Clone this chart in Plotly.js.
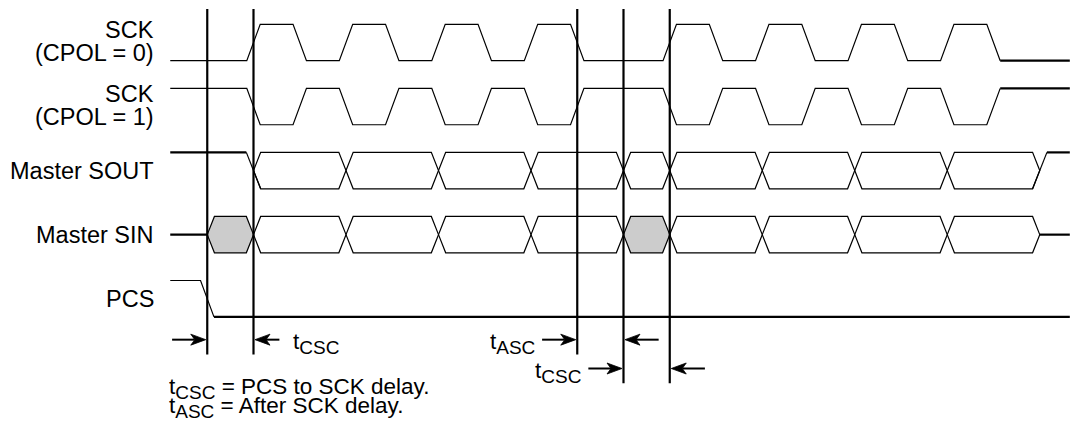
<!DOCTYPE html>
<html><head><meta charset="utf-8">
<script src="https://cdn.plot.ly/plotly-3.0.1.min.js"></script>
<style>html,body{margin:0;padding:0;background:#fff}#chart{width:1070px;height:423px}</style>
</head><body><div id="chart"></div>
<script>
// ---------------- data (time in half SCK periods, t = 0 at the first SCK edge) ----------------
const signalNames = ['SCK', 'SCK', 'Master SOUT', 'Master SIN', 'PCS'];
const signalNotes = ['(CPOL = 0)', '(CPOL = 1)', '', '', ''];
const traceStart = -1.8;
const traceEnd = 17.65;
const sckEdges = [0, 1, 2, 3, 4, 5, 6, 7, 9, 10, 11, 12, 13, 14, 15, 16];
const sckIdleLevel = [0, 1];                       // CPOL = 0, CPOL = 1
const soutChanges = [0, 2, 4, 6, 8, 9, 11, 13, 15, 17];
const sinChanges = [-1, 0, 2, 4, 6, 8, 9, 11, 13, 15, 17];
const sinUndefined = [-1, 8];                      // windows starting here are shaded
const pcsFall = -1;
const markerTimes = [-1, 0, 7, 8, 9];
const intervalNames = ['CSC', 'ASC', 'CSC'];
const intervalStart = [-1, 7, 8];
const intervalEnd = [0, 8, 9];
const footnoteNames = ['CSC', 'ASC'];
const footnoteTexts = [' = PCS to SCK delay.', ' = After SCK delay.'];

// ---------------- layout / style constants ----------------
const W = 1070, H = 423;
const X_RANGE = [-5.481, 17.654], Y_RANGE = [5.941, -0.6635];
const PX_X = W / (X_RANGE[1] - X_RANGE[0]);        // pixels per time unit
const PX_Y = H / (Y_RANGE[0] - Y_RANGE[1]);        // pixels per row unit
const FONT = 'Liberation Sans, Arial, Helvetica, sans-serif';
const INK = '#000000';
const THIN = 1.2, THICK = 2.2, MARK = 2.2;
const A = 0.284;            // half swing of a signal (row units)
const hClk = 0.145, hData = 0.155;
const markerTop = -0.523;
const arrowRowY = [4.64, 4.64, 5.09];
const arrowLenBefore = [0.76, 0.76, 0.76];
const arrowLenAfter = [0.56, 0.76, 0.76];
const labelSide = ['right', 'left', 'left'];
const HEAD_L = 15, HEAD_W = 5.5, HEAD_N = 4, TIP_GAP = 1.5;   // pixels
const LABEL_SIZE = 23.5, NOTE_SIZE = 22.5, SUB_SIZE = 19;

const traces = [];
function addLine(xs, ys, w, extra) {
  traces.push(Object.assign({type: 'scatter', mode: 'lines', x: xs, y: ys,
    line: {color: INK, width: w}, hoverinfo: 'skip', showlegend: false}, extra || {}));
}
const lv = (row, high) => row + (high ? -A : A);

// clocks
sckIdleLevel.forEach((idle, row) => {
  const xs = [traceStart], ys = [lv(row, idle)];
  let l = idle;
  sckEdges.forEach(e => {
    xs.push(e - hClk); ys.push(lv(row, l));
    l = 1 - l;
    xs.push(e + hClk); ys.push(lv(row, l));
  });
  addLine(xs, ys, THIN);
  addLine([xs[xs.length - 1], traceEnd], [ys[ys.length - 1], ys[ys.length - 1]], THICK);
});

function hexagon(row, a, b, xs, ys) {
  const pts = [[a, row], [a + hData, row - A], [b - hData, row - A], [b, row],
               [b - hData, row + A], [a + hData, row + A], [a, row]];
  pts.forEach(p => { xs.push(p[0]); ys.push(p[1]); });
  xs.push(null); ys.push(null);
}

// Master SOUT
(function () {
  const row = 2, c = soutChanges;
  addLine([traceStart, c[0] - hData], [row - A, row - A], THICK);
  const xs = [c[0] - hData, c[0] + hData, null], ys = [row - A, row + A, null];
  for (let i = 0; i < c.length - 1; i++) hexagon(row, c[i], c[i + 1], xs, ys);
  const e = c[c.length - 1];
  xs.push(e - hData, e + hData); ys.push(row + A, row - A);
  addLine(xs, ys, THIN);
  addLine([e + hData, traceEnd], [row - A, row - A], THICK);
})();

// Master SIN
(function () {
  const row = 3, c = sinChanges;
  addLine([traceStart, c[0]], [row, row], THICK);
  const xs = [], ys = [], gx = [], gy = [];
  for (let i = 0; i < c.length - 1; i++) {
    if (sinUndefined.includes(c[i])) hexagon(row, c[i], c[i + 1], gx, gy);
    else hexagon(row, c[i], c[i + 1], xs, ys);
  }
  addLine(gx, gy, THIN, {fill: 'toself', fillcolor: '#cccccc'});
  addLine(xs, ys, THIN);
  const e = c[c.length - 1];
  addLine([e, traceEnd], [row, row], THICK);
})();

// PCS
(function () {
  const row = 4;
  addLine([traceStart, pcsFall - hClk, pcsFall + hClk], [row - A, row - A, row + A], THIN);
  addLine([pcsFall + hClk, traceEnd], [row + A, row + A], THICK);
})();

// timing markers
(function () {
  const xs = [], ys = [];
  markerTimes.forEach(t => {
    let bottom = 0;
    intervalStart.forEach((s, i) => {
      if (s === t || intervalEnd[i] === t) bottom = Math.max(bottom, arrowRowY[i] + 0.23);
    });
    xs.push(t, t, null); ys.push(markerTop, bottom, null);
  });
  addLine(xs, ys, MARK);
})();

// interval arrows (shaft + filled stealth head)
(function () {
  const sx = [], sy = [], hx = [], hy = [];
  function arrow(marker, dir, len, y) {       // dir = +1 points right, -1 points left
    const tip = marker - dir * TIP_GAP / PX_X;
    const tail = marker - dir * len;
    const back = tip - dir * HEAD_L / PX_X;
    const notch = tip - dir * (HEAD_L - HEAD_N) / PX_X;
    sx.push(tail, notch, null); sy.push(y, y, null);
    hx.push(tip, back, notch, back, tip, null);
    hy.push(y, y - HEAD_W / PX_Y, y, y + HEAD_W / PX_Y, y, null);
  }
  intervalNames.forEach((n, i) => {
    arrow(intervalStart[i], 1, arrowLenBefore[i], arrowRowY[i]);
    arrow(intervalEnd[i], -1, arrowLenAfter[i], arrowRowY[i]);
  });
  addLine(sx, sy, 2);
  addLine(hx, hy, 0.8, {fill: 'toself', fillcolor: INK});
})();

const sub = (s, size) => '<sub><span style="font-size:' + size + 'px">' + s + '</span></sub>';

const annotations = [];
// signal labels
signalNames.forEach((n, row) => {
  const note = signalNotes[row];
  const base = {xref: 'paper', yref: 'y', x: 156 / W, xanchor: 'right', yanchor: 'middle',
    showarrow: false, font: {size: LABEL_SIZE, family: FONT, color: INK}};
  if (note) {
    annotations.push(Object.assign({}, base, {y: row - 0.19, text: n}));
    annotations.push(Object.assign({}, base, {y: row + 0.165, text: note}));
  } else {
    annotations.push(Object.assign({}, base, {y: row, text: n}));
  }
});

// interval labels
intervalNames.forEach((name, i) => {
  const y = arrowRowY[i] + 0.06;
  const txt = 't' + sub(name, SUB_SIZE);
  const base = {xref: 'x', yref: 'y', y: y, text: txt, yanchor: 'middle', showarrow: false,
    font: {size: NOTE_SIZE, family: FONT, color: INK}};
  if (labelSide[i] === 'right') {
    annotations.push(Object.assign(base, {x: intervalEnd[i] + arrowLenAfter[i] + 0.25, xanchor: 'left'}));
  } else {
    annotations.push(Object.assign(base, {x: intervalStart[i] - arrowLenBefore[i] - 0.12, xanchor: 'right'}));
  }
});

// footnotes
footnoteNames.forEach((n, i) => {
  annotations.push({xref: 'paper', yref: 'y', x: 167 / W, y: 5.40 + i * 0.30,
    text: 't' + sub(n, SUB_SIZE) + footnoteTexts[i],
    xanchor: 'left', yanchor: 'middle', showarrow: false, font: {size: NOTE_SIZE, family: FONT, color: INK}});
});

const layout = {
  width: W, height: H, margin: {l: 0, r: 0, t: 0, b: 0, pad: 0},
  paper_bgcolor: '#ffffff', plot_bgcolor: '#ffffff', showlegend: false,
  font: {family: FONT, color: INK},
  xaxis: {range: X_RANGE, visible: false, fixedrange: true},
  yaxis: {range: Y_RANGE, visible: false, fixedrange: true},
  annotations: annotations
};

Plotly.newPlot('chart', traces, layout, {staticPlot: true, displayModeBar: false});
</script>
</body></html>
